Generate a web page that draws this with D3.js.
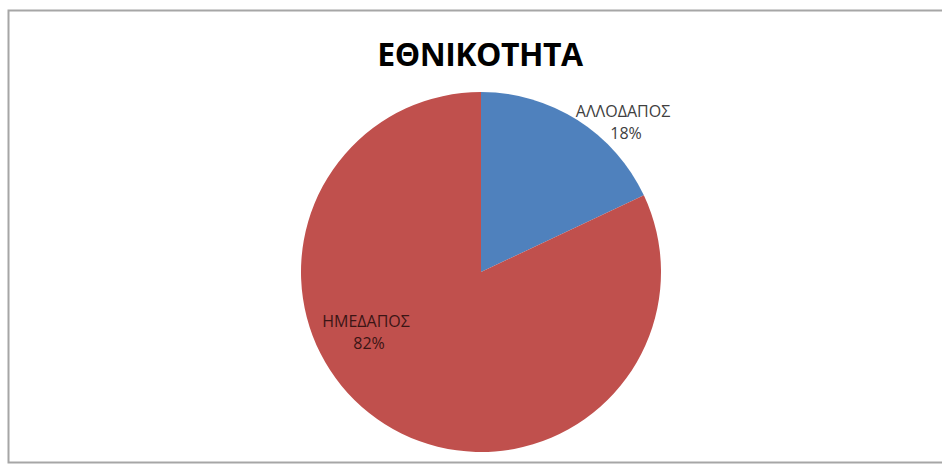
<!DOCTYPE html>
<html>
<head>
<meta charset="utf-8">
<script src="https://cdn.jsdelivr.net/npm/d3@7"></script>
<style>
  body { margin: 0; background: #fff; }
  text { font-family: "Open Sans", "Noto Sans", sans-serif; }
</style>
</head>
<body>
<div id="chart"></div>
<script>
var categories = ["ΑΛΛΟΔΑΠΟΣ", "ΗΜΕΔΑΠΟΣ"];
var values = [18, 82];
var colors = ["#4f81bd", "#c0504d"];
var title = "ΕΘΝΙΚΟΤΗΤΑ";

var width = 942, height = 466;
var cx = 481, cy = 272, radius = 180;

var svg = d3.select("#chart").append("svg")
    .attr("width", width)
    .attr("height", height);

// frame
svg.append("rect")
    .attr("x", 8.5).attr("y", 10.5)
    .attr("width", 950).attr("height", 452)
    .style("fill", "#fff")
    .style("stroke", "#a6a6a6")
    .style("stroke-width", 2);

svg.append("text")
    .attr("x", 480).attr("y", 66)
    .attr("text-anchor", "middle")
    .style("font-size", "32px")
    .style("font-weight", "bold")
    .style("letter-spacing", "-0.5px")
    .style("fill", "#000")
    .text(title);

var data = categories.map(function(c, i) { return {name: c, value: values[i], color: colors[i]}; });

var pie = d3.pie().sort(null).value(function(d) { return d.value; });
var arc = d3.arc().innerRadius(0).outerRadius(radius);

var g = svg.append("g").attr("transform", "translate(" + cx + "," + cy + ")");

var slices = g.selectAll("path").data(pie(data));
slices.enter().append("path")
    .attr("d", arc)
    .style("fill", function(d) { return d.data.color; });

// labels: first one outside, second inside (like excel best fit)
var total = d3.sum(values);
var labelOffsets = [[142, -155], [-115, 55]];
var labelColors = ["#404040", "#3b1515"];

pie(data).forEach(function(d, i) {
    var t = g.append("text")
        .attr("x", labelOffsets[i][0])
        .attr("y", labelOffsets[i][1])
        .attr("text-anchor", "middle")
        .style("font-size", "16px")
        .style("fill", labelColors[i]);
    t.append("tspan").attr("x", labelOffsets[i][0]).text(d.data.name);
    t.append("tspan").attr("x", labelOffsets[i][0] + 3).attr("dy", 22)
        .text(Math.round(d.data.value / total * 100) + "%");
});
</script>
</body>
</html>
